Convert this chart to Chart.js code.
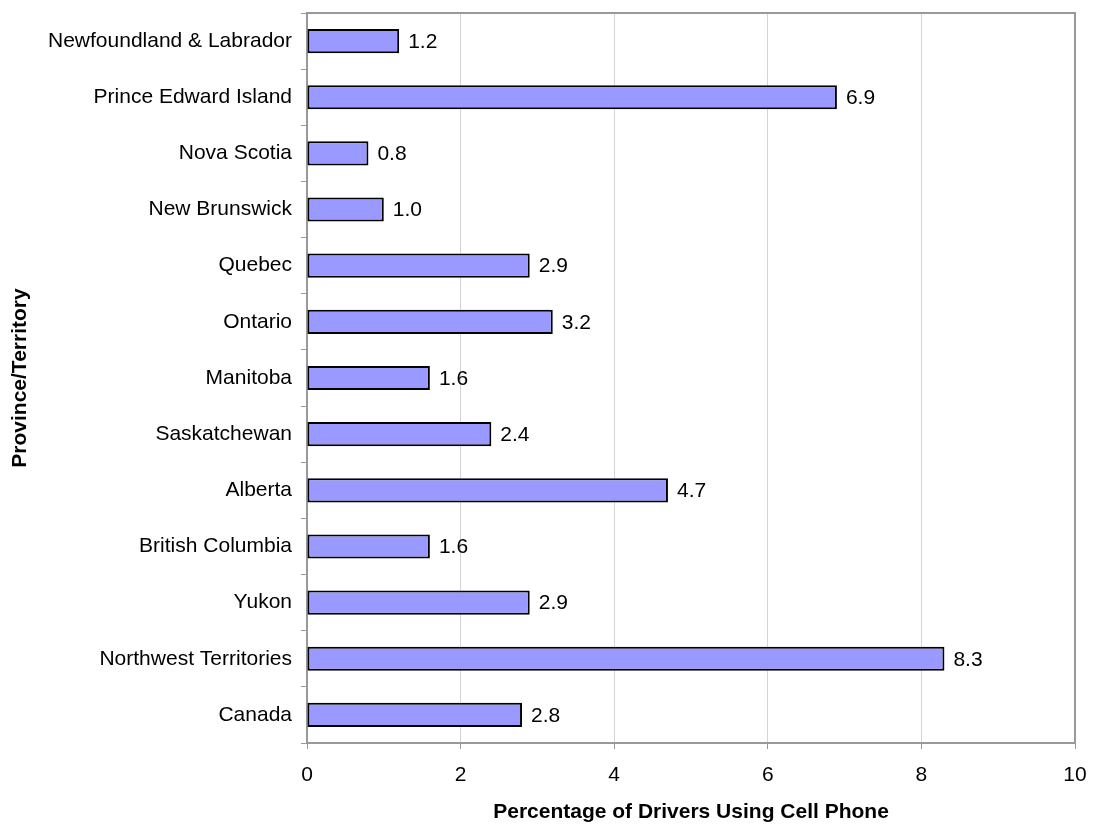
<!DOCTYPE html>
<html>
<head>
<meta charset="utf-8">
<script src="https://cdn.jsdelivr.net/npm/chart.js@4/dist/chart.umd.min.js"></script>
<style>
  html, body { margin: 0; padding: 0; background: #fff; }
  #wrap { width: 1093px; height: 825px; position: relative; }
</style>
</head>
<body>
<div id="wrap"><canvas id="chart"></canvas></div>
<script>
const provinces = [
    'Newfoundland & Labrador', 'Prince Edward Island', 'Nova Scotia', 'New Brunswick',
    'Quebec', 'Ontario', 'Manitoba', 'Saskatchewan', 'Alberta', 'British Columbia',
    'Yukon', 'Northwest Territories', 'Canada'
];
const cellPhoneUse = [1.2, 6.9, 0.8, 1.0, 2.9, 3.2, 1.6, 2.4, 4.7, 1.6, 2.9, 8.3, 2.8];
const xTicks = [0, 2, 4, 6, 8, 10];

const FONT = "'Liberation Sans', Arial, sans-serif";

// numbers after each bar
const valueLabels = {
    id: 'valueLabels',
    afterDatasetsDraw(chart) {
        const ctx = chart.ctx;
        const meta = chart.getDatasetMeta(0);
        ctx.save();
        ctx.font = '21px ' + FONT;
        ctx.fillStyle = '#000';
        ctx.textAlign = 'left';
        ctx.textBaseline = 'middle';
        meta.data.forEach((bar, i) => {
            ctx.fillText(cellPhoneUse[i].toFixed(1), bar.x + 9, bar.y + 1);
        });
        ctx.restore();
    }
};

// grey frame round the plot area
const plotFrame = {
    id: 'plotFrame',
    beforeDatasetsDraw(chart) {
        const a = chart.chartArea;
        const ctx = chart.ctx;
        ctx.save();
        ctx.strokeStyle = '#999';
        ctx.lineWidth = 2;
        ctx.strokeRect(a.left, a.top, a.right - a.left, a.bottom - a.top);
        ctx.restore();
    }
};

// no label overhang, so the plot area sits where the padding says
function noOverhang(scale) {
    scale.paddingLeft = 0;
    scale.paddingRight = 0;
    scale.paddingTop = 0;
    scale.paddingBottom = 0;
}

new Chart(document.getElementById('chart'), {
    type: 'bar',
    data: {
        labels: provinces,
        datasets: [{
            data: cellPhoneUse,
            backgroundColor: '#9999FF',
            borderColor: '#000',
            borderWidth: 2,
            borderSkipped: false,
            barPercentage: 0.43,
            categoryPercentage: 1
        }]
    },
    options: {
        indexAxis: 'y',
        responsive: true,
        maintainAspectRatio: false,
        animation: false,
        layout: { padding: { top: 13, right: 18, bottom: 0, left: 0 } },
        plugins: {
            legend: { display: false },
            tooltip: { enabled: false }
        },
        scales: {
            x: {
                min: 0,
                max: 10,
                afterBuildTicks: (scale) => { scale.ticks = xTicks.map(v => ({ value: v })); },
                afterFit: (scale) => { scale.height = 82; noOverhang(scale); },
                grid: {
                    color: (c) => (c.tick && (c.tick.value === 0 || c.tick.value === 10)) ? '#999' : '#d4d4d4',
                    lineWidth: 1,
                    tickColor: '#999',
                    tickLength: 6
                },
                border: { display: false },
                ticks: {
                    color: '#000',
                    padding: 14,
                    maxRotation: 0,
                    font: { family: FONT, size: 21 }
                },
                title: {
                    display: true,
                    text: 'Percentage of Drivers Using Cell Phone',
                    color: '#000',
                    font: { family: FONT, size: 21, weight: 'bold' },
                    padding: { top: 0, bottom: 0 }
                }
            },
            y: {
                afterFit: (scale) => { scale.width = 307; noOverhang(scale); },
                grid: {
                    drawOnChartArea: false,
                    tickColor: '#999',
                    tickLength: 6
                },
                border: { display: false },
                ticks: {
                    color: '#000',
                    padding: 9,
                    font: { family: FONT, size: 21 }
                },
                title: {
                    display: true,
                    text: 'Province/Territory',
                    color: '#000',
                    font: { family: FONT, size: 21, weight: 'bold' },
                    padding: { top: 8, bottom: 0 }
                }
            }
        }
    },
    plugins: [plotFrame, valueLabels]
});
</script>
</body>
</html>
